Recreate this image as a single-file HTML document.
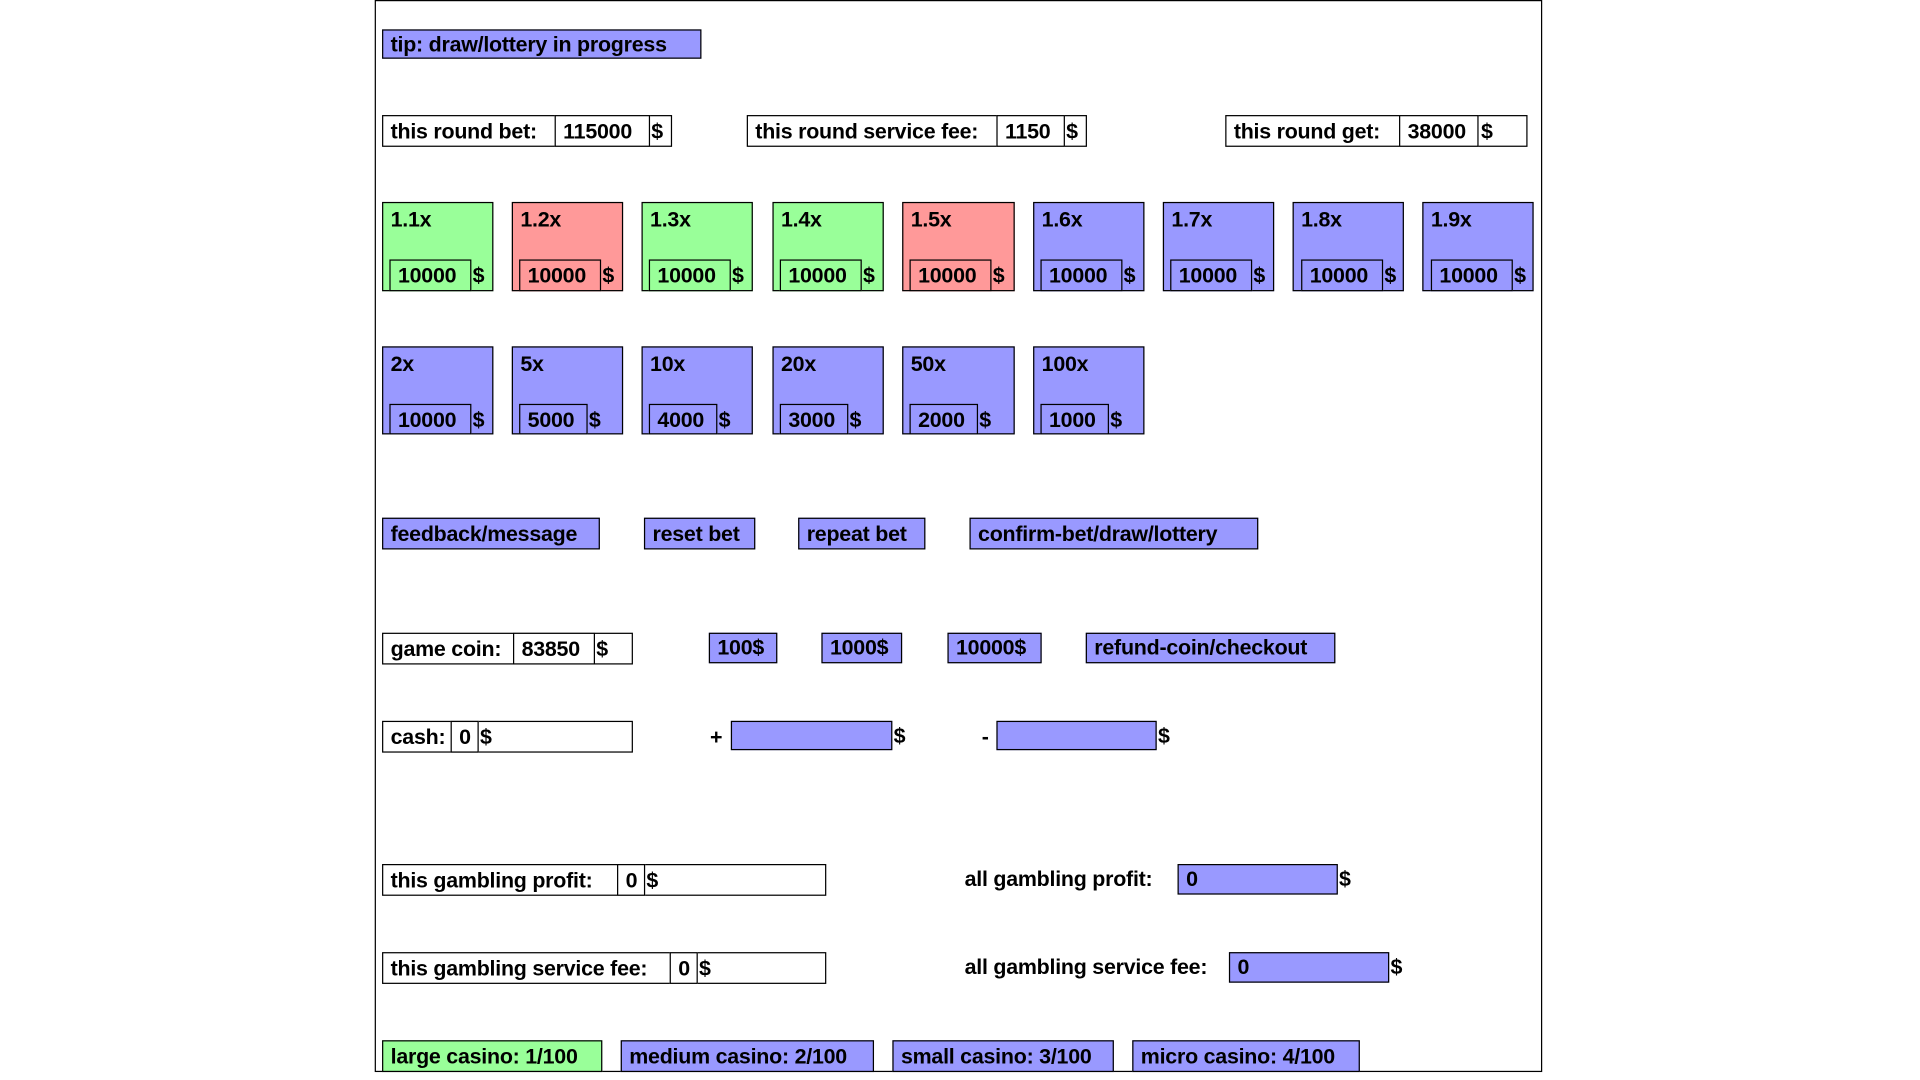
<!DOCTYPE html>
<html><head><meta charset="utf-8"><style>
html,body{margin:0;padding:0;background:#fff;width:1920px;height:1080px;overflow:hidden}
#w{position:absolute;left:-1px;top:0;width:1560px;height:878px;transform:scale(1.2238);transform-origin:0 0}
div{position:absolute;box-sizing:border-box;font-family:"Liberation Sans",sans-serif;font-weight:bold;font-size:17.5px;color:#000;white-space:nowrap;letter-spacing:-0.2px}
.b{border:1px solid #000;padding-left:6px}
.p{background:#9999ff}.g{background:#99ff99}.r{background:#ff9999}.w{background:#fff}
.t{border:none}
</style></head><body><div id="w">
<div style="left:307px;top:0;width:954px;height:876px;border:1px solid #000"></div>

<div class="b p" style="left:313px;top:24px;width:261px;height:24px;line-height:22px">tip: draw/lottery in progress</div>

<div class="b w" style="left:313px;top:94px;width:237px;height:26px;line-height:24px">this round bet:</div>
<div class="b w" style="left:454px;top:94px;width:78px;height:26px;line-height:24px">115000</div>
<div class="t" style="left:533px;top:94px;line-height:26px">$</div>

<div class="b w" style="left:611px;top:94px;width:278px;height:26px;line-height:24px">this round service fee:</div>
<div class="b w" style="left:815px;top:94px;width:56px;height:26px;line-height:24px">1150</div>
<div class="t" style="left:872px;top:94px;line-height:26px">$</div>

<div class="b w" style="left:1002px;top:94px;width:247px;height:26px;line-height:24px">this round get:</div>
<div class="b w" style="left:1144px;top:94px;width:65px;height:26px;line-height:24px">38000</div>
<div class="t" style="left:1211px;top:94px;line-height:26px">$</div>

<!-- row 1 -->
<div class="b g" style="left:313px;top:165px;width:91px;height:73px;line-height:26px">1.1x</div>
<div class="b g" style="left:319px;top:212px;width:67px;height:26px;line-height:24px">10000</div><div class="t" style="left:387px;top:212px;line-height:26px">$</div>
<div class="b r" style="left:419px;top:165px;width:91px;height:73px;line-height:26px">1.2x</div>
<div class="b r" style="left:425px;top:212px;width:67px;height:26px;line-height:24px">10000</div><div class="t" style="left:493px;top:212px;line-height:26px">$</div>
<div class="b g" style="left:525px;top:165px;width:91px;height:73px;line-height:26px">1.3x</div>
<div class="b g" style="left:531px;top:212px;width:67px;height:26px;line-height:24px">10000</div><div class="t" style="left:599px;top:212px;line-height:26px">$</div>
<div class="b g" style="left:632px;top:165px;width:91px;height:73px;line-height:26px">1.4x</div>
<div class="b g" style="left:638px;top:212px;width:67px;height:26px;line-height:24px">10000</div><div class="t" style="left:706px;top:212px;line-height:26px">$</div>
<div class="b r" style="left:738px;top:165px;width:92px;height:73px;line-height:26px">1.5x</div>
<div class="b r" style="left:744px;top:212px;width:67px;height:26px;line-height:24px">10000</div><div class="t" style="left:812px;top:212px;line-height:26px">$</div>
<div class="b p" style="left:845px;top:165px;width:91px;height:73px;line-height:26px">1.6x</div>
<div class="b p" style="left:851px;top:212px;width:67px;height:26px;line-height:24px">10000</div><div class="t" style="left:919px;top:212px;line-height:26px">$</div>
<div class="b p" style="left:951px;top:165px;width:91px;height:73px;line-height:26px">1.7x</div>
<div class="b p" style="left:957px;top:212px;width:67px;height:26px;line-height:24px">10000</div><div class="t" style="left:1025px;top:212px;line-height:26px">$</div>
<div class="b p" style="left:1057px;top:165px;width:91px;height:73px;line-height:26px">1.8x</div>
<div class="b p" style="left:1064px;top:212px;width:67px;height:26px;line-height:24px">10000</div><div class="t" style="left:1132px;top:212px;line-height:26px">$</div>
<div class="b p" style="left:1163px;top:165px;width:91px;height:73px;line-height:26px">1.9x</div>
<div class="b p" style="left:1170px;top:212px;width:67px;height:26px;line-height:24px">10000</div><div class="t" style="left:1238px;top:212px;line-height:26px">$</div>

<!-- row 2 -->
<div class="b p" style="left:313px;top:283px;width:91px;height:72px;line-height:26px">2x</div>
<div class="b p" style="left:319px;top:330px;width:67px;height:25px;line-height:24px">10000</div><div class="t" style="left:387px;top:330px;line-height:26px">$</div>
<div class="b p" style="left:419px;top:283px;width:91px;height:72px;line-height:26px">5x</div>
<div class="b p" style="left:425px;top:330px;width:56px;height:25px;line-height:24px">5000</div><div class="t" style="left:482px;top:330px;line-height:26px">$</div>
<div class="b p" style="left:525px;top:283px;width:91px;height:72px;line-height:26px">10x</div>
<div class="b p" style="left:531px;top:330px;width:56px;height:25px;line-height:24px">4000</div><div class="t" style="left:588px;top:330px;line-height:26px">$</div>
<div class="b p" style="left:632px;top:283px;width:91px;height:72px;line-height:26px">20x</div>
<div class="b p" style="left:638px;top:330px;width:56px;height:25px;line-height:24px">3000</div><div class="t" style="left:695px;top:330px;line-height:26px">$</div>
<div class="b p" style="left:738px;top:283px;width:92px;height:72px;line-height:26px">50x</div>
<div class="b p" style="left:744px;top:330px;width:56px;height:25px;line-height:24px">2000</div><div class="t" style="left:801px;top:330px;line-height:26px">$</div>
<div class="b p" style="left:845px;top:283px;width:91px;height:72px;line-height:26px">100x</div>
<div class="b p" style="left:851px;top:330px;width:56px;height:25px;line-height:24px">1000</div><div class="t" style="left:908px;top:330px;line-height:26px">$</div>

<!-- buttons -->
<div class="b p" style="left:313px;top:423px;width:178px;height:26px;line-height:24px">feedback/message</div>
<div class="b p" style="left:527px;top:423px;width:91px;height:26px;line-height:24px">reset bet</div>
<div class="b p" style="left:653px;top:423px;width:104px;height:26px;line-height:24px">repeat bet</div>
<div class="b p" style="left:793px;top:423px;width:236px;height:26px;line-height:24px">confirm-bet/draw/lottery</div>

<!-- coin -->
<div class="b w" style="left:313px;top:517px;width:205px;height:26px;line-height:24px">game coin:</div>
<div class="b w" style="left:420px;top:517px;width:67px;height:26px;line-height:24px">83850</div>
<div class="t" style="left:488px;top:517px;line-height:26px">$</div>
<div class="b p" style="left:580px;top:517px;width:56px;height:25px;line-height:23px">100$</div>
<div class="b p" style="left:672px;top:517px;width:66px;height:25px;line-height:23px">1000$</div>
<div class="b p" style="left:775px;top:517px;width:77px;height:25px;line-height:23px">10000$</div>
<div class="b p" style="left:888px;top:517px;width:204px;height:25px;line-height:23px">refund-coin/checkout</div>

<!-- cash -->
<div class="b w" style="left:313px;top:589px;width:205px;height:26px;line-height:24px">cash:</div>
<div class="b w" style="left:369px;top:589px;width:23px;height:26px;line-height:24px">0</div>
<div class="t" style="left:393px;top:589px;line-height:26px">$</div>
<div class="t" style="left:581px;top:589px;line-height:26px">+</div>
<div class="b p" style="left:598px;top:589px;width:132px;height:24px"></div>
<div class="t" style="left:731px;top:588px;line-height:26px">$</div>
<div class="t" style="left:803px;top:589px;line-height:26px">-</div>
<div class="b p" style="left:815px;top:589px;width:131px;height:24px"></div>
<div class="t" style="left:947px;top:588px;line-height:26px">$</div>

<!-- profit -->
<div class="b w" style="left:313px;top:706px;width:363px;height:26px;line-height:24px">this gambling profit:</div>
<div class="b w" style="left:505px;top:706px;width:23px;height:26px;line-height:24px">0</div>
<div class="t" style="left:529px;top:706px;line-height:26px">$</div>
<div class="t" style="left:789px;top:705px;line-height:26px">all gambling profit:</div>
<div class="b p" style="left:963px;top:706px;width:131px;height:25px;line-height:23px">0</div>
<div class="t" style="left:1095px;top:705px;line-height:26px">$</div>

<div class="b w" style="left:313px;top:778px;width:363px;height:26px;line-height:24px">this gambling service fee:</div>
<div class="b w" style="left:548px;top:778px;width:23px;height:26px;line-height:24px">0</div>
<div class="t" style="left:572px;top:778px;line-height:26px">$</div>
<div class="t" style="left:789px;top:777px;line-height:26px">all gambling service fee:</div>
<div class="b p" style="left:1005px;top:778px;width:131px;height:25px;line-height:23px">0</div>
<div class="t" style="left:1137px;top:777px;line-height:26px">$</div>

<!-- casinos -->
<div class="b g" style="left:313px;top:850px;width:180px;height:26px;line-height:24px">large casino: 1/100</div>
<div class="b p" style="left:508px;top:850px;width:207px;height:26px;line-height:24px">medium casino: 2/100</div>
<div class="b p" style="left:730px;top:850px;width:181px;height:26px;line-height:24px">small casino: 3/100</div>
<div class="b p" style="left:926px;top:850px;width:186px;height:26px;line-height:24px">micro casino: 4/100</div>
</div></body></html>
